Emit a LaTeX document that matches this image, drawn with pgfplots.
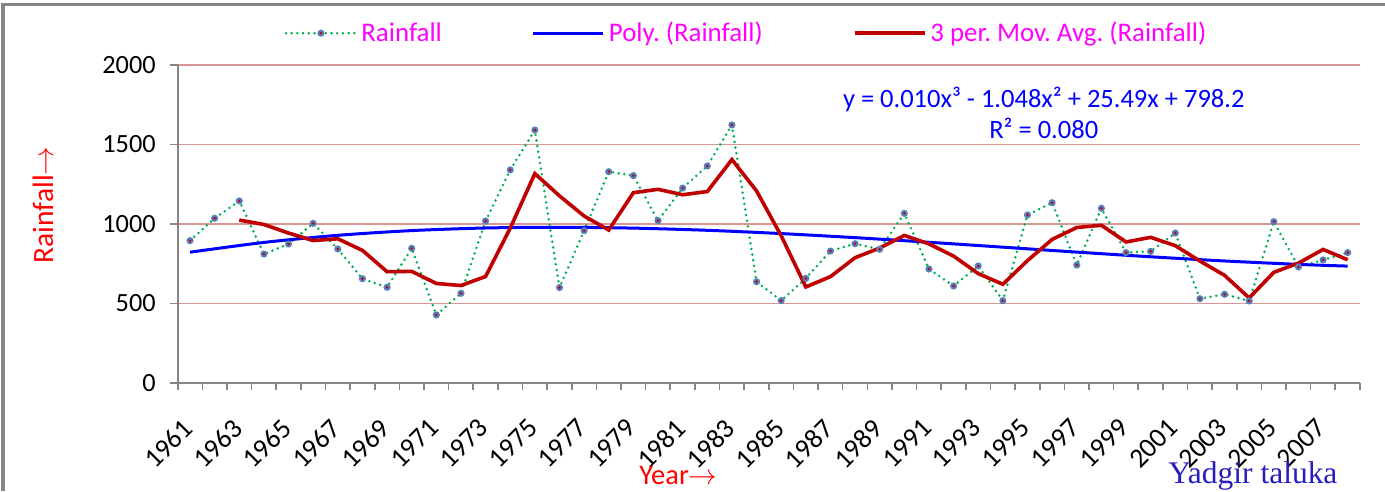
\documentclass[border=0pt]{standalone}
\usepackage{pgfplots}
\pgfplotsset{compat=1.18}
\usepackage{pgfplotstable}
\usepackage{fontspec}
\setmainfont{Carlito}
\newfontfamily\tnr{Liberation Serif}
\frenchspacing
\definecolor{gridpink}{RGB}{217,150,148}
\definecolor{axgray}{RGB}{134,134,134}
\definecolor{rgreen}{RGB}{0,176,80}
\definecolor{mkblue}{RGB}{85,128,190}
\definecolor{mkred}{RGB}{200,0,0}
\definecolor{mared}{RGB}{192,0,0}
\definecolor{tblue}{RGB}{40,30,190}
\definecolor{lmag}{RGB}{255,0,255}
\definecolor{lred}{RGB}{255,0,0}
\definecolor{eqblue}{RGB}{0,0,255}
\pgfdeclareplotmark{rainmark}{%
  \pgfpathcircle{\pgfpointorigin}{\pgfplotmarksize}%
  \pgfsetfillcolor{mkblue}\pgfusepathqfill
  \pgfpathcircle{\pgfpointorigin}{0.4\pgfplotmarksize}%
  \pgfsetfillcolor{mkred}\pgfusepathqfill}
\pgfplotstableread{
year rain
1961 895
1962 1036
1963 1145
1964 811
1965 874
1966 1004
1967 843
1968 656
1969 602
1970 847
1971 428
1972 564
1973 1019
1974 1340
1975 1591
1976 600
1977 958
1978 1329
1979 1304
1980 1021
1981 1226
1982 1365
1983 1623
1984 637
1985 518
1986 658
1987 830
1988 876
1989 841
1990 1067
1991 717
1992 610
1993 736
1994 518
1995 1057
1996 1134
1997 742
1998 1099
1999 820
2000 828
2001 943
2002 530
2003 558
2004 516
2005 1015
2006 730
2007 774
2008 820
}\raintable
\pgfplotstableread{
year ma
1963 1025
1964 997
1965 943
1966 896
1967 907
1968 834
1969 700
1970 702
1971 626
1972 613
1973 670
1974 974
1975 1317
1976 1177
1977 1050
1978 962
1979 1197
1980 1218
1981 1184
1982 1204
1983 1405
1984 1208
1985 926
1986 604
1987 669
1988 788
1989 849
1990 928
1991 875
1992 798
1993 688
1994 621
1995 770
1996 903
1997 978
1998 992
1999 887
2000 916
2001 864
2002 767
2003 677
2004 535
2005 696
2006 754
2007 840
2008 775
}\matable
\pgfplotstableread{
year poly
1961 822.7
1964 884.1
1967 928.8
1970 958.5
1973 974.9
1976 979.5
1979 974.1
1982 960.4
1985 939.8
1988 914.2
1991 885.1
1994 854.3
1997 823.3
2000 793.8
2003 767.5
2006 746.0
2008 735.2
}\polytable
\begin{document}
\begin{tikzpicture}[x=1bp,y=1bp]
\useasboundingbox (0,0) rectangle (692.5,245.5);
\draw[axgray, line width=1.5bp] (1.5,0) -- (1.5,243) -- (692.5,243);
\begin{axis}[
  at={(88.85bp,54bp)}, anchor=south west,
  scale only axis, width=591.15bp, height=159bp,
  xmin=1960.5, xmax=2008.5, ymin=0, ymax=2000,
  axis x line=bottom, axis y line=left,
  axis line style={-, draw=axgray, line width=1bp},
  ytick={0,500,...,2000},
  xtick={1961,1963,...,2007},
  minor xtick={1960.5,1961.5,...,2008.5},
  tick align=outside,
  major tick length=4bp, minor tick length=3.5bp,
  every tick/.style={draw=axgray, line width=0.8bp},
  x tick style={draw=none},
  minor x tick style={draw=axgray, line width=0.8bp},
  ymajorgrids, grid style={draw=gridpink, line width=0.8bp},
  /pgf/number format/1000 sep={},
  /pgf/number format/assume math mode=true,
  ticklabel style={font=\fontsize{13.2}{15}\selectfont, text=black},
  yticklabel style={xshift=-3.5bp},
  xticklabel style={rotate=45, anchor=north east, yshift=-2.8bp, xshift=-8.8bp, font=\fontsize{13.8}{15}\selectfont},
  xlabel={Year$\rightarrow$},
  ylabel={Rainfall$\rightarrow$},
  every axis x label/.style={at={(axis description cs:0.4236,-0.32)}, anchor=base, inner sep=0pt,
    font=\fontsize{14.3}{17}\selectfont, text=lred},
  every axis y label/.style={at={(axis description cs:-0.1139,0.56)}, anchor=center, rotate=90, inner sep=0pt,
    font=\fontsize{14.8}{17}\selectfont, text=lred},
  legend columns=3,
  legend style={draw=none, fill=none, at={(axis description cs:0.085,1.10)}, anchor=west,
    font=\fontsize{13.5}{15}\selectfont, text=lmag,
    /tikz/every even column/.append style={column sep=43bp}},
  legend image code/.code={\draw[mark repeat=2,mark phase=2,#1] plot coordinates {(0bp,0bp) (17.5bp,0bp) (35bp,0bp)};},
]
\addplot[rgreen, line width=1.4bp, line cap=round, dash pattern=on 0bp off 2.85bp,
  mark=rainmark, mark size=1.8bp, mark options={solid}] table[x=year, y=rain] {\raintable};
\addlegendentry{Rainfall}
\addplot[eqblue, line width=1.5bp, smooth] table[x=year, y=poly] {\polytable};
\addlegendentry{Poly. (Rainfall)}
\addplot[mared, line width=1.8bp] table[x=year, y=ma] {\matable};
\addlegendentry{3 per. Mov. Avg. (Rainfall)}
\node[text=eqblue, align=center, font=\fontsize{13.3}{15.5}\selectfont] at (axis cs:1995.66,1700) {y = 0.010x³ - 1.048x² + 25.49x + 798.2\\R² = 0.080};
\end{axis}
\node[anchor=base west, text=tblue, font=\tnr\fontsize{15.8}{18}\selectfont, inner sep=0pt] at (584,4) {Yadgir taluka};
\end{tikzpicture}
\end{document}
